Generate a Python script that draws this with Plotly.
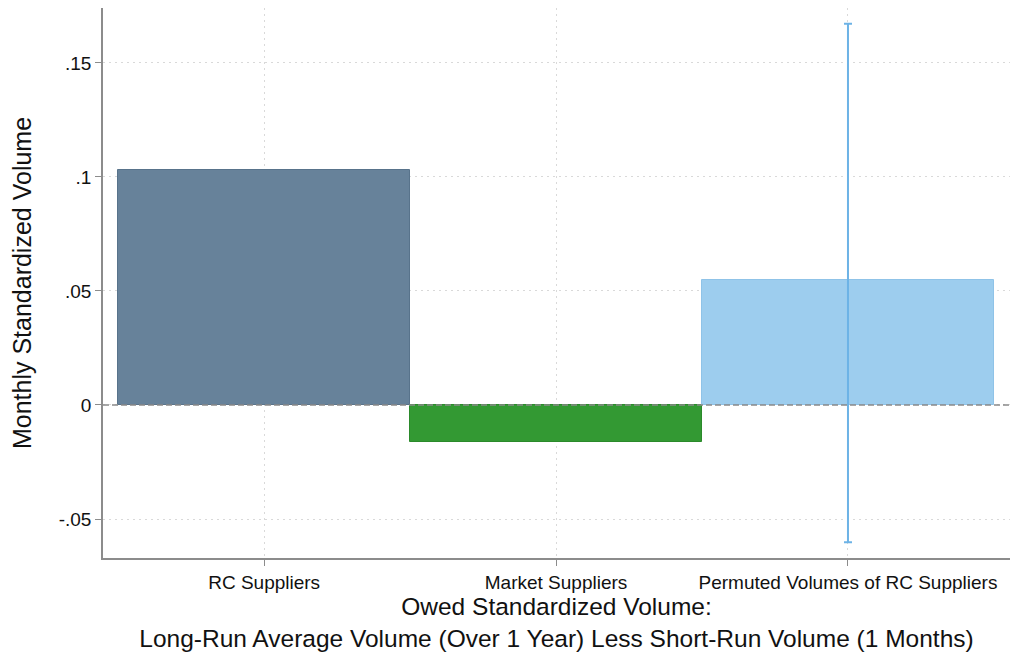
import plotly.graph_objects as go

# Group labels and mean owed standardized volume per group
categories = ["RC Suppliers", "Market Suppliers", "Permuted Volumes of RC Suppliers"]
means = [0.1031, -0.0162, 0.0548]
# Confidence band for the permuted group only
ci_upper = [None, None, 0.1672]
ci_lower = [None, None, -0.0602]

y_tickvals = [-0.05, 0, 0.05, 0.1, 0.15]
y_ticktext = ["-.05", "0", ".05", ".1", ".15"]

bar_colors = ["#67829a", "#339933", "#9dcdee"]
bar_lines = ["#58738b", "#2b8a2b", "#8fc3e8"]

font_family = "Liberation Sans, Arial, Helvetica, sans-serif"

fig = go.Figure()

for i, cat in enumerate(categories):
    trace = dict(
        x=[i],
        y=[means[i]],
        width=1.0,
        marker=dict(color=bar_colors[i], line=dict(color=bar_lines[i], width=1)),
        showlegend=False,
        hoverinfo="skip",
    )
    if ci_upper[i] is not None:
        trace["error_y"] = dict(
            type="data",
            symmetric=False,
            array=[ci_upper[i] - means[i]],
            arrayminus=[means[i] - ci_lower[i]],
            color="#6db3e6",
            thickness=2,
            width=4,
        )
    fig.add_trace(go.Bar(**trace))

# Dashed reference line at zero, drawn over the bars
fig.add_shape(
    type="line", xref="paper", yref="y",
    x0=0, x1=1, y0=0, y1=0,
    line=dict(color="#8a8a8a", width=1.5, dash="6px,3px"),
    layer="above",
)

grid_style = dict(
    showgrid=True,
    gridcolor="#d9d9d9",
    griddash="2px,4px",
    gridwidth=1.2,
    showline=True,
    linecolor="#8c8c8c",
    linewidth=1.5,
    ticks="outside",
    ticklen=6,
    tickcolor="#8c8c8c",
    zeroline=False,
)

fig.update_layout(
    width=1010,
    height=658,
    margin=dict(l=103, r=0, t=8, b=100),
    paper_bgcolor="white",
    plot_bgcolor="white",
    font=dict(family=font_family, color="#111111"),
    bargap=0,
    xaxis=dict(
        tickmode="array",
        tickvals=[0, 1, 2],
        ticktext=categories,
        range=[-0.552, 2.555],
        tickfont=dict(size=19, color="#111111"),
        title=dict(
            text="Owed Standardized Volume:<br>Long-Run Average Volume (Over 1 Year) Less Short-Run Volume (1 Months)",
            font=dict(size=24.5, color="#111111"),
            standoff=6,
        ),
        **grid_style,
    ),
    yaxis=dict(
        tickmode="array",
        tickvals=y_tickvals,
        ticktext=y_ticktext,
        range=[-0.0671, 0.1741],
        tickfont=dict(size=19, color="#111111"),
        title=dict(
            text="Monthly Standardized Volume",
            font=dict(size=25, color="#111111"),
            standoff=20,
        ),
        **grid_style,
    ),
)

fig.write_html("out.html")
